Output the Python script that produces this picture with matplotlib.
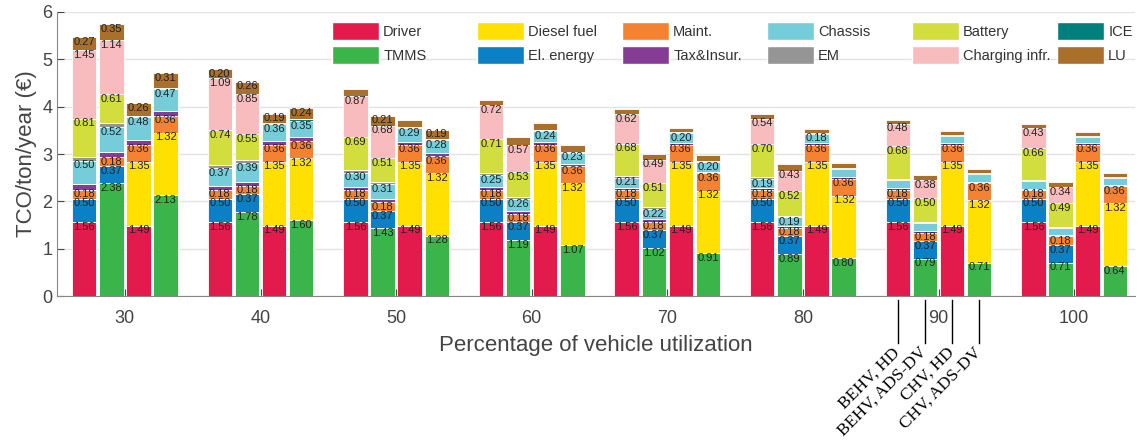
import matplotlib
matplotlib.use("Agg")
import matplotlib.pyplot as plt
from matplotlib.patches import Patch
import numpy as np

plt.rcParams['font.family'] = ['Liberation Sans', 'DejaVu Sans']

# utilization groups, 4 vehicles per group
utilization = [30, 40, 50, 60, 70, 80, 90, 100]
vehicles = ["BEHV, HD", "BEHV, ADS-DV", "CHV, HD", "CHV, ADS-DV"]

# each row = one utilization level, columns = vehicles (same order as above)
driver = [[1.56, 0, 1.49, 0]] * 8
tmms = [[0, 2.38, 0, 2.13], [0, 1.78, 0, 1.60], [0, 1.43, 0, 1.28], [0, 1.19, 0, 1.07],
        [0, 1.02, 0, 0.91], [0, 0.89, 0, 0.80], [0, 0.79, 0, 0.71], [0, 0.71, 0, 0.64]]
diesel = [[0, 0, 1.35, 1.32]] * 8
el_energy = [[0.50, 0.37, 0, 0]] * 8
maint = [[0.18, 0.18, 0.36, 0.36]] * 8
tax_insur = [[0.12, 0.12, 0.10, 0.09], [0.09, 0.09, 0.07, 0.07], [0.07, 0.07, 0.06, 0.06],
             [0.06, 0.05, 0.05, 0.05], [0.05, 0.05, 0.04, 0.04], [0.04, 0.04, 0.04, 0.03],
             [0.04, 0.03, 0.03, 0.03], [0.03, 0.03, 0.03, 0.03]]
chassis = [[0.50, 0.52, 0.48, 0.47], [0.37, 0.39, 0.36, 0.35], [0.30, 0.31, 0.29, 0.28],
           [0.25, 0.26, 0.24, 0.23], [0.21, 0.22, 0.20, 0.20], [0.19, 0.19, 0.18, 0.17],
           [0.17, 0.17, 0.16, 0.15], [0.16, 0.15, 0.14, 0.14]]
em = [[0.08, 0.08, 0, 0], [0.07, 0.06, 0, 0], [0.06, 0.05, 0, 0], [0.05, 0.04, 0, 0],
      [0.04, 0.04, 0, 0], [0.04, 0.03, 0, 0], [0.03, 0.03, 0, 0], [0.03, 0.03, 0, 0]]
battery = [[0.81, 0.61, 0, 0], [0.74, 0.55, 0, 0], [0.69, 0.51, 0, 0], [0.71, 0.53, 0, 0],
           [0.68, 0.51, 0, 0], [0.70, 0.52, 0, 0], [0.68, 0.50, 0, 0], [0.66, 0.49, 0, 0]]
charging = [[1.45, 1.14, 0, 0], [1.09, 0.85, 0, 0], [0.87, 0.68, 0, 0], [0.72, 0.57, 0, 0],
            [0.62, 0.49, 0, 0], [0.54, 0.43, 0, 0], [0.48, 0.38, 0, 0], [0.43, 0.34, 0, 0]]
ice = [[0, 0, 0.03, 0.03], [0, 0, 0.03, 0.03], [0, 0, 0.02, 0.02], [0, 0, 0.02, 0.02],
       [0, 0, 0.02, 0.02], [0, 0, 0.02, 0.02], [0, 0, 0.02, 0.02], [0, 0, 0.02, 0.02]]
lu = [[0.27, 0.35, 0.26, 0.31], [0.20, 0.26, 0.19, 0.24], [0.15, 0.21, 0.15, 0.19],
      [0.12, 0.17, 0.14, 0.14], [0.11, 0.13, 0.10, 0.12], [0.10, 0.13, 0.09, 0.12],
      [0.08, 0.11, 0.08, 0.09], [0.08, 0.11, 0.07, 0.08]]

components = [
    ("Driver", driver, "#E31B4C"),
    ("TMMS", tmms, "#3BB54A"),
    ("Diesel fuel", diesel, "#FFE000"),
    ("El. energy", el_energy, "#0B80C5"),
    ("Maint.", maint, "#F58230"),
    ("Tax&Insur.", tax_insur, "#843C94"),
    ("Chassis", chassis, "#74CDD9"),
    ("EM", em, "#959595"),
    ("Battery", battery, "#D2DE3D"),
    ("Charging infr.", charging, "#F8BCBE"),
    ("ICE", ice, "#00807C"),
    ("LU", lu, "#A96F2B"),
]
no_label = {"Tax&Insur.", "EM", "ICE"}

fig = plt.figure(figsize=(11.42, 4.42), dpi=100)
ax = fig.add_axes([0.050, 0.330, 0.944, 0.643])

offsets = np.array([-3, -1, 1, 3])
bar_w = 1.8
x = np.array(utilization)[:, None] + offsets[None, :]

bottom = np.zeros((8, 4))
for name, vals, col in components:
    v = np.array(vals, dtype=float)
    ax.bar(x.ravel(), v.ravel(), width=bar_w, bottom=bottom.ravel(), color=col,
           edgecolor="white", linewidth=0.6, zorder=2)
    if name not in no_label:
        for i in range(8):
            for j in range(4):
                h = v[i, j]
                if h >= 0.18:
                    top = bottom[i, j] + h
                    ax.text(x[i, j], top - min(h / 2, 0.1), f"{h:.2f}", ha="center",
                            va="center", fontsize=8, color="#222222", zorder=3)
    bottom += v

ax.set_xlim(25, 104.5)
ax.set_ylim(0, 6)
ax.set_xticks(utilization)
ax.set_yticks(range(7))
ax.tick_params(axis="both", labelsize=13, colors="#444444", direction="in", length=5)
ax.tick_params(axis="x", pad=10)
ax.yaxis.grid(True, color="#e3e3e3", linewidth=1, zorder=0)
ax.set_axisbelow(True)
for s in ["top", "right"]:
    ax.spines[s].set_visible(False)
for s in ["left", "bottom"]:
    ax.spines[s].set_color("#888888")
ax.set_ylabel("TCO/ton/year (€)", fontsize=16, color="#444444")
ax.set_xlabel("Percentage of vehicle utilization", fontsize=16, color="#444444", labelpad=6)

# legend: 6 columns of 2 entries, evenly spaced like the original
ax_px = 0.944 * 1142
for c in range(6):
    handles = [Patch(facecolor=components[2 * c + r][2], edgecolor="white")
               for r in range(2)]
    labels = [components[2 * c + r][0] for r in range(2)]
    leg = ax.legend(handles, labels, loc="upper left",
                    bbox_to_anchor=((275 + 145 * c) / ax_px, 0.965),
                    frameon=False, fontsize=10.5, handlelength=3.2, handleheight=1.5,
                    handletextpad=0.3, labelspacing=0.45, borderpad=0, borderaxespad=0)
    for t in leg.get_texts():
        t.set_color("#333333")
    if c < 5:
        ax.add_artist(leg)

# vehicle annotation below the 90 % group
for j, name in enumerate(vehicles):
    xv = 90 + offsets[j]
    ax.plot([xv, xv], [-0.08, -0.98], color="black", linewidth=1, clip_on=False)
    ax.text(xv + 0.4, -1.02, name, rotation=45, ha="right", va="top",
            fontsize=12.5, family=["Liberation Serif", "DejaVu Serif"], clip_on=False)

fig.savefig("out.png", dpi=100)
